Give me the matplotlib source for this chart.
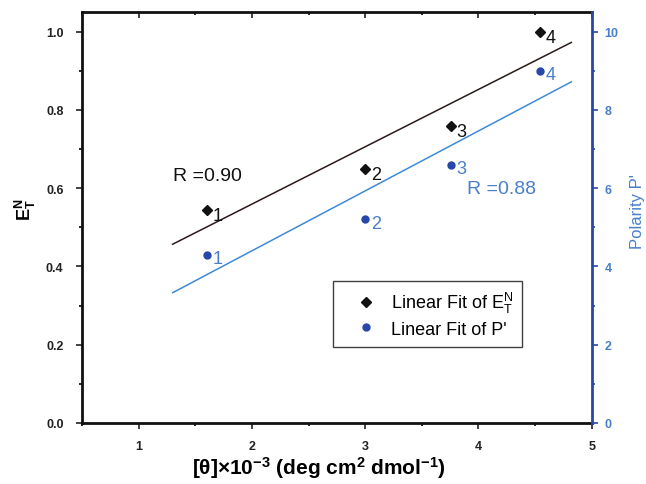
import numpy as np
import matplotlib.pyplot as plt
from matplotlib.ticker import MultipleLocator

plt.rcParams['font.family'] = ['Liberation Sans', 'DejaVu Sans']
plt.rcParams['mathtext.fontset'] = 'custom'
plt.rcParams['mathtext.rm'] = 'Liberation Sans'
plt.rcParams['mathtext.it'] = 'Liberation Sans'
plt.rcParams['mathtext.bf'] = 'Liberation Sans:bold'

# Data
theta = [1.60, 3.00, 3.76, 4.54]          # [theta] x 10^-3
et_n = [0.545, 0.650, 0.760, 1.000]       # E_T^N
polarity = [4.3, 5.2, 6.6, 9.0]          # P'
point_labels = ['1', '2', '3', '4']

black = '#111111'
blue_dark = '#2748a8'
blue_line = '#3d8ad8'
blue_text = '#4a7fcb'

fig = plt.figure(figsize=(6.46, 4.85), dpi=100)
ax = fig.add_axes([0.127, 0.126, 0.789, 0.847])
ax2 = ax.twinx()

# linear fits
fit_x = np.array([1.3, 4.82])
k1, b1 = np.polyfit(theta, et_n, 1)
k2, b2 = np.polyfit(theta, polarity, 1)
ax.plot(fit_x, k1 * fit_x + b1, color='#2a1a1a', lw=1.1)
ax2.plot(fit_x, k2 * fit_x + b2, color=blue_line, lw=1.1)

ax.plot(theta, et_n, 'D', color=black, ms=5.5, ls='none',
        label=r'Linear Fit of E$_\mathregular{T}^\mathregular{N}$')
ax2.plot(theta, polarity, 'o', color=blue_dark, ms=5, ls='none', label="Linear Fit of P'")

for x, y, t in zip(theta, et_n, point_labels):
    ax.annotate(t, (x, y), xytext=(4, -4), textcoords='offset points',
                fontsize=13, color=black, va='center', ha='left')
for x, y, t in zip(theta, polarity, point_labels):
    ax2.annotate(t, (x, y), xytext=(4, -3), textcoords='offset points',
                 fontsize=13, color=blue_text, va='center', ha='left')

ax.text(1.3, 0.633, 'R =0.90', fontsize=14, color=black, va='center')
ax2.text(3.9, 5.99, 'R =0.88', fontsize=14, color=blue_text, va='center')

# axes limits and ticks
ax.set_xlim(0.5, 5)
ax.set_ylim(0, 1.05)
ax2.set_ylim(0, 10.5)
ax.xaxis.set_minor_locator(MultipleLocator(0.5))
ax.yaxis.set_minor_locator(MultipleLocator(0.1))
ax2.yaxis.set_major_locator(MultipleLocator(2))
ax2.yaxis.set_minor_locator(MultipleLocator(1))
ax.set_xticks([1, 2, 3, 4, 5])
ax.set_xticklabels(['1', '2', '3', '4', '5'])
ax.set_yticks([0, 0.2, 0.4, 0.6, 0.8, 1.0])
ax.set_yticklabels(['0.0', '0.2', '0.4', '0.6', '0.8', '1.0'])

ax.tick_params(axis='both', which='major', direction='out', length=4.3, width=1.2,
               labelsize=9, colors='#222222')
ax.tick_params(axis='both', which='minor', direction='out', length=2.5, width=1.2)
ax.tick_params(axis='y', which='major', pad=9)
ax.tick_params(axis='x', which='major', pad=8)
ax.tick_params(axis='x', top=True, which='both')
for lab in ax.get_xticklabels() + ax.get_yticklabels():
    lab.set_fontweight('bold')
ax2.tick_params(axis='y', which='major', direction='out', length=4.3, width=1.2, pad=5,
                labelsize=9, colors=blue_dark, labelcolor=blue_text)
ax2.tick_params(axis='y', which='minor', direction='out', length=2.5, width=1.2, colors=blue_dark)
for lab in ax2.get_yticklabels():
    lab.set_fontweight('bold')

# top ticks point inward
for t in ax.xaxis.get_major_ticks() + ax.xaxis.get_minor_ticks():
    t.tick2line.set_marker(3)

for s in ['left', 'bottom', 'top']:
    ax.spines[s].set_linewidth(2)
    ax.spines[s].set_color(black)
ax.spines['right'].set_visible(False)
for s in ['left', 'bottom', 'top']:
    ax2.spines[s].set_visible(False)
ax2.spines['right'].set_linewidth(2)
ax2.spines['right'].set_color(blue_dark)

ax.set_xlabel(r'[θ]×10$^{\mathregular{-3}}$ (deg cm$^{\mathregular{2}}$ dmol$^{\mathregular{-1}}$)',
              fontsize=15, fontweight='bold')
ax.xaxis.set_label_coords(0.465, -0.075)
ax.set_ylabel(r'$\mathbf{E_T^N}$', fontsize=13)
ax.yaxis.set_label_coords(-0.086, 0.52)
ax2.set_ylabel("Polarity P'", fontsize=12, color=blue_text)
ax2.yaxis.set_label_coords(1.076, 0.516)

h1, l1 = ax.get_legend_handles_labels()
h2, l2 = ax2.get_legend_handles_labels()
leg = ax2.legend(h1 + h2, l1 + l2, loc='upper left', bbox_to_anchor=(0.492, 0.3455),
                 borderaxespad=0, fontsize=13, frameon=True, fancybox=False, edgecolor=black,
                 handletextpad=0.05, borderpad=0.5, labelspacing=0.3, handlelength=2.68)
leg.get_frame().set_linewidth(1.0)

fig.savefig('out.png', dpi=100)
